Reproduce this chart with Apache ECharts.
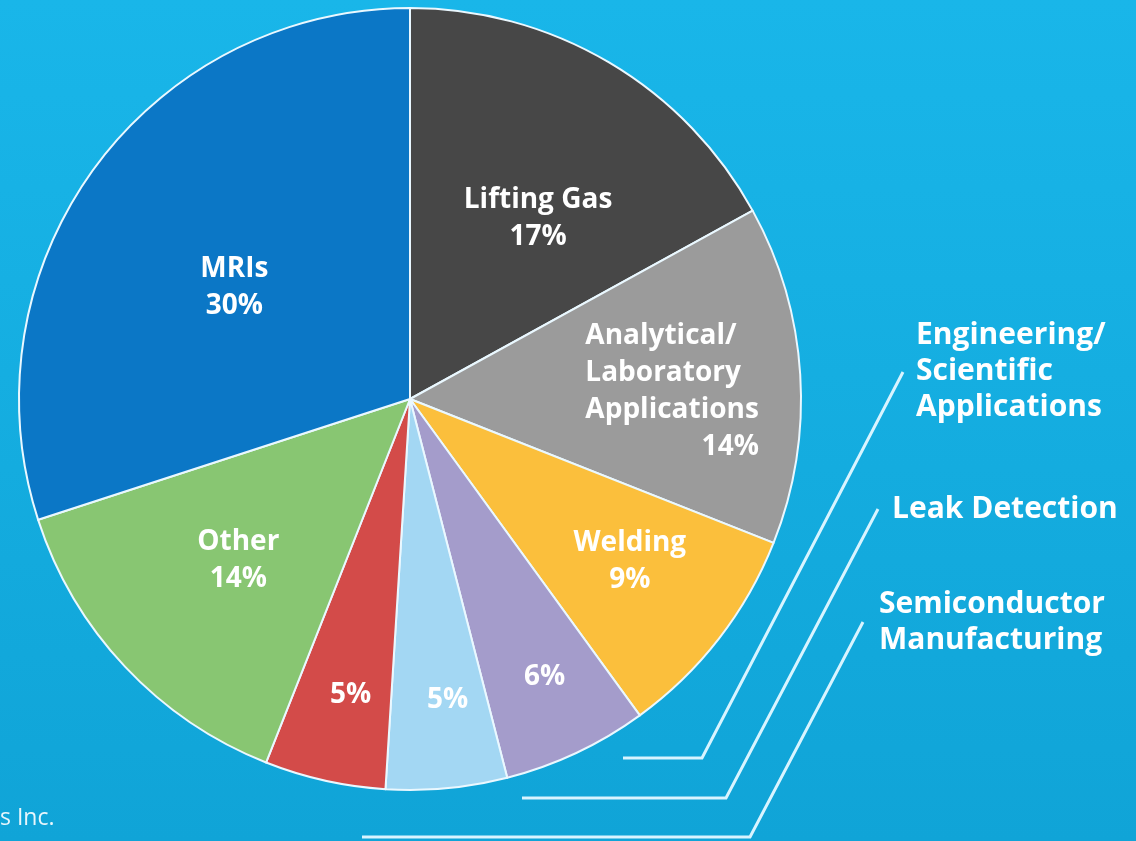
<!DOCTYPE html>
<html>
<head>
<meta charset="utf-8">
<script src="https://cdn.jsdelivr.net/npm/echarts@6/dist/echarts.min.js"></script>
<style>
  html, body { margin: 0; padding: 0; }
  #chart { width: 1136px; height: 841px; }
</style>
</head>
<body>
<div id="chart"></div>
<script>
// helium end uses - share of consumption (%)
var useNames = ['Lifting Gas', 'Analytical/\nLaboratory\nApplications', 'Welding',
  'Engineering/\nScientific\nApplications', 'Leak Detection', 'Semiconductor\nManufacturing',
  'Other', 'MRIs'];
var useShares = [17, 14, 9, 6, 5, 5, 14, 30];
var sliceColors = ['#474747', '#9b9b9b', '#fbbf3c', '#a49ccb', '#a3d7f3', '#d34b49', '#88c672', '#0b77c6'];
// slices whose name sits outside the pie
var outsideNames = [false, false, false, true, true, true, false, false];

// label nudges from the default inside spot
var labelShift = [[27, -10], [64, 5], [63, 41], [50, 98], [19, 103], [-16, 102], [-27, 26], [-15, 5]];

var chart = echarts.init(document.getElementById('chart'));
var font = '"Open Sans"';
var lineCol = '#d8f4ff';

var pieData = [];
for (var i = 0; i < useNames.length; i++) {
  pieData.push({
    name: useNames[i],
    value: useShares[i],
    itemStyle: { color: sliceColors[i] }
  });
}

// outside labels + leader lines
var leaderLines = [
  [[623, 758], [702, 758], [903, 372]],
  [[522, 798], [726, 798], [878, 509]],
  [[362, 837], [750, 837], [863, 622]]
];
var leaderText = [[916, 317], [892, 491], [879, 586]];

var graphics = [];
var k = 0;
for (var j = 0; j < useNames.length; j++) {
  if (!outsideNames[j]) continue;
  graphics.push({
    type: 'polyline',
    shape: { points: leaderLines[k] },
    style: { stroke: lineCol, lineWidth: 3, fill: null }
  });
  graphics.push({
    type: 'text',
    x: leaderText[k][0], y: leaderText[k][1],
    style: {
      text: useNames[j], fill: '#ffffff',
      font: 'bold 30px ' + font, lineHeight: 36
    }
  });
  k++;
}
graphics.push({
  type: 'text', x: 0, y: 807,
  style: { text: 's Inc.', fill: '#e8f6fc', font: '23px ' + font }
});

var option = {
  backgroundColor: {
    type: 'linear', x: 0, y: 0, x2: 0, y2: 1,
    colorStops: [{ offset: 0, color: '#19b6e9' }, { offset: 1, color: '#10a4d7' }]
  },
  animation: false,
  graphic: graphics,
  series: [{
    type: 'pie',
    center: [410, 399],
    radius: 391,
    startAngle: 90,
    clockwise: true,
    data: pieData,
    itemStyle: { borderColor: '#eaf8ff', borderWidth: 2 },
    label: {
      position: 'inside',
      color: '#ffffff',
      fontFamily: font,
      fontWeight: 'bold',
      fontSize: 28,
      lineHeight: 37,
      formatter: function (p) {
        if (outsideNames[p.dataIndex]) return p.value + '%';
        if (p.dataIndex === 1) {
          return '{n|Analytical/}\n{n|Laboratory}\n{n|Applications}\n{p|' + p.value + '%}';
        }
        return p.name + '\n' + p.value + '%';
      },
      rich: {
        n: { align: 'left', color: '#ffffff', fontFamily: font, fontWeight: 'bold', fontSize: 28, lineHeight: 37 },
        p: { align: 'right', color: '#ffffff', fontFamily: font, fontWeight: 'bold', fontSize: 28, lineHeight: 37 }
      }
    },
    labelLine: { show: false },
    labelLayout: function (params) {
      var s = labelShift[params.dataIndex];
      return { dx: s[0], dy: s[1] };
    }
  }]
};

chart.setOption(option);
window.addEventListener('resize', function () {
  chart.resize();
});
</script>
</body>
</html>
